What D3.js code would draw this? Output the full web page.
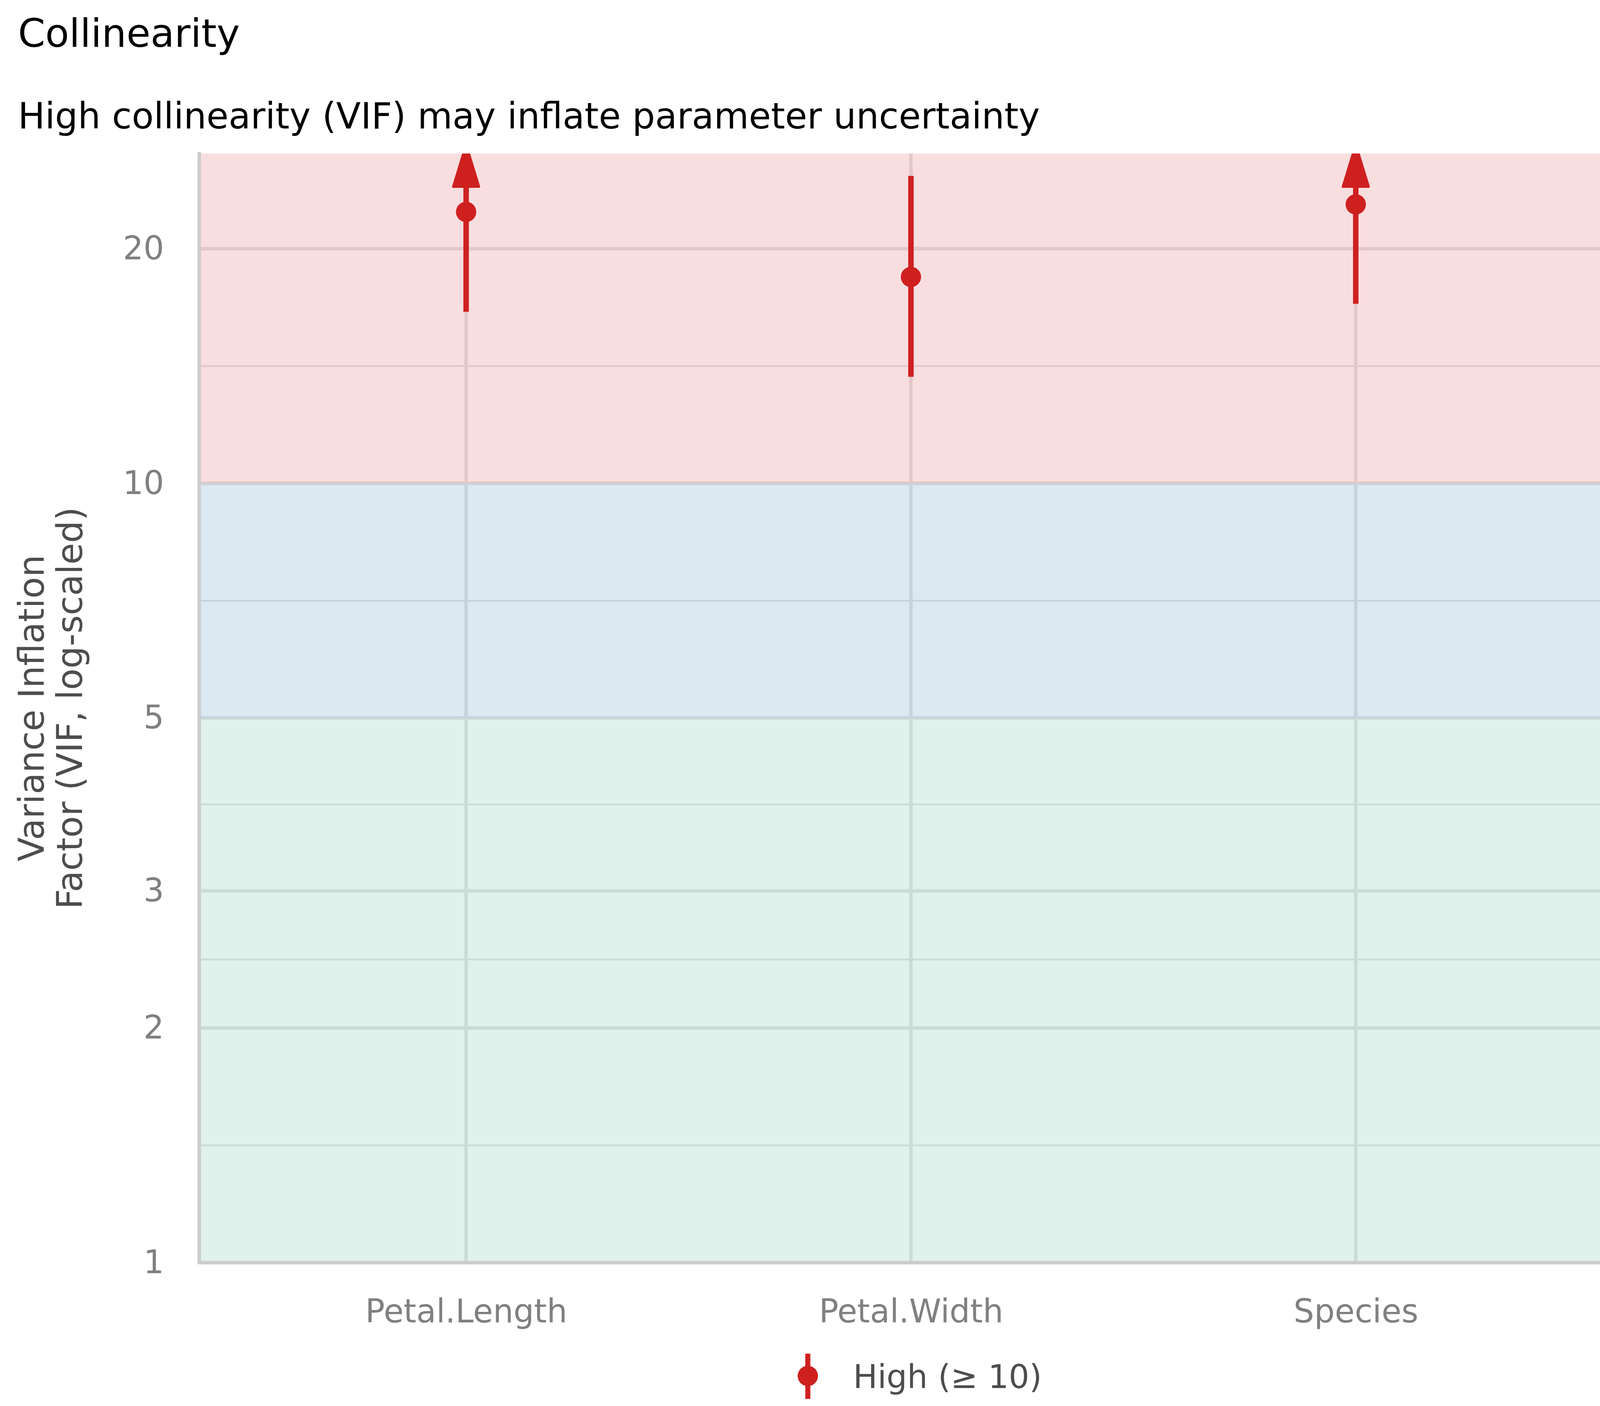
<!DOCTYPE html>
<html>
<head>
<meta charset="utf-8">
<script src="https://cdn.jsdelivr.net/npm/d3@7"></script>
<style>
  html, body { margin: 0; padding: 0; background: #fff; overflow: hidden; }
  svg { display: block; font-family: "DejaVu Sans", sans-serif; }
</style>
</head>
<body>
<div id="chart"></div>
<script>
// Data
const terms = ["Petal.Length", "Petal.Width", "Species"];
const vif = [22.3, 18.4, 22.8];
const ciLow = [16.6, 13.7, 17.0];
const ciHigh = [null, 24.8, null]; // null = upper bound runs off the top of the axis

const yTicks = [1, 2, 3, 5, 10, 20];
const yMinorTicks = [1.414, 2.449, 3.873, 7.071, 14.142];

// Zones: low (1-5), moderate (5-10), high (>= 10); drawn half transparent over the grid
const bandEdges = [1, 5, 10];
const bandColors = ["#c3e5d9", "#b9d1e5", "#f3bdc1"];

const legendLabel = "High (\u2265 10)";
const titleText = "Collinearity";
const subtitleText = "High collinearity (VIF) may inflate parameter uncertainty";
const yTitleLines = ["Variance Inflation", "Factor (VIF, log-scaled)"];

const W = 4200, H = 3600;
const panel = { left: 510, right: 4154, top: 393, bottom: 3233 };
const RED = "#cf2020";
const GRID = "#d3d3d3";

function renderChart(container) {
  const svg = d3.select(container).append("svg").attr("width", W).attr("height", H);

  const x = d3.scalePoint().domain(terms).range([panel.left, panel.right]).padding(0.6);
  const yMax = 26.5;
  const y = d3.scaleLog().domain([1, yMax]).range([panel.bottom, panel.top]);

  svg.append("defs").append("clipPath").attr("id", "panel-clip")
    .append("rect")
    .attr("x", panel.left).attr("y", panel.top)
    .attr("width", panel.right - panel.left).attr("height", panel.bottom - panel.top);

  // Gridlines (underneath the translucent zones)
  const grid = svg.append("g").attr("stroke", GRID);
  grid.selectAll(".minor").data(yMinorTicks).join("line")
    .attr("x1", panel.left).attr("x2", panel.right)
    .attr("y1", (d) => y(d)).attr("y2", (d) => y(d))
    .attr("stroke-width", 4.5);
  grid.selectAll(".major").data(yTicks.filter((d) => d > 1)).join("line")
    .attr("x1", panel.left).attr("x2", panel.right)
    .attr("y1", (d) => y(d)).attr("y2", (d) => y(d))
    .attr("stroke-width", 9);
  grid.selectAll(".vert").data(terms).join("line")
    .attr("x1", (d) => x(d)).attr("x2", (d) => x(d))
    .attr("y1", panel.top).attr("y2", panel.bottom)
    .attr("stroke-width", 9);

  // Background zones
  const bands = bandEdges.map((lo, i) => ({ lo, hi: bandEdges[i + 1] || yMax, color: bandColors[i] }));
  svg.append("g").selectAll("rect").data(bands).join("rect")
    .attr("x", panel.left).attr("width", panel.right - panel.left)
    .attr("y", (d) => y(d.hi)).attr("height", (d) => y(d.lo) - y(d.hi))
    .attr("fill", (d) => d.color).attr("fill-opacity", 0.5);

  // Axes (labels only, no ticks)
  const yAxis = svg.append("g")
    .attr("transform", `translate(${panel.left},0)`)
    .call(d3.axisLeft(y).tickValues(yTicks).tickFormat(d3.format("d")).tickSize(0).tickPadding(90));
  const xAxis = svg.append("g")
    .attr("transform", `translate(0,${panel.bottom})`)
    .call(d3.axisBottom(x).tickSize(0).tickPadding(94));
  [yAxis, xAxis].forEach((g) => {
    g.select(".domain").remove();
    g.selectAll("text")
      .attr("fill", "#808080")
      .style("font-size", "83px")
      .style("font-family", "'DejaVu Sans', sans-serif");
  });

  // Axis lines
  svg.append("line")
    .attr("x1", panel.left).attr("x2", panel.left)
    .attr("y1", panel.top - 4).attr("y2", panel.bottom + 4)
    .attr("stroke", "#cccccc").attr("stroke-width", 9);
  svg.append("line")
    .attr("x1", panel.left).attr("x2", panel.right)
    .attr("y1", panel.bottom).attr("y2", panel.bottom)
    .attr("stroke", "#cccccc").attr("stroke-width", 9);

  // Point ranges
  const rows = terms.map((t, i) => ({ term: t, vif: vif[i], lo: ciLow[i], hi: ciHigh[i] }));
  const marks = svg.append("g").attr("clip-path", "url(#panel-clip)");

  marks.selectAll(".ci").data(rows).join("line")
    .attr("x1", (d) => x(d.term)).attr("x2", (d) => x(d.term))
    .attr("y1", (d) => y(d.lo))
    .attr("y2", (d) => (d.hi == null ? panel.top : y(d.hi)))
    .attr("stroke", RED).attr("stroke-width", 14);

  // Arrow heads where the interval leaves the axis range
  const arrowLen = 108, arrowHalf = 33, tipOver = 23;
  marks.selectAll(".arrow").data(rows.filter((d) => d.hi == null)).join("path")
    .attr("d", (d) => {
      const cx = x(d.term);
      const tip = panel.top - tipOver;
      const base = tip + arrowLen;
      return `M${cx},${tip}L${cx + arrowHalf},${base}L${cx - arrowHalf},${base}Z`;
    })
    .attr("fill", RED).attr("stroke", RED)
    .attr("stroke-width", 6).attr("stroke-linejoin", "round");

  marks.selectAll(".pt").data(rows).join("circle")
    .attr("cx", (d) => x(d.term)).attr("cy", (d) => y(d.vif))
    .attr("r", 26).attr("fill", RED);

  // Titles
  svg.append("text").attr("x", 46).attr("y", 120)
    .style("font-size", "100px").attr("fill", "#000").text(titleText);
  svg.append("text").attr("x", 46).attr("y", 329)
    .style("font-size", "92px").attr("fill", "#000").text(subtitleText);

  const yMid = (panel.top + panel.bottom) / 2;
  const yTitleX = [112, 210];
  yTitleLines.forEach((line, i) => {
    svg.append("text")
      .attr("transform", `translate(${yTitleX[i]},${yMid}) rotate(-90)`)
      .attr("text-anchor", "middle")
      .style("font-size", "90px").attr("fill", "#4d4d4d")
      .text(line);
  });

  // Legend
  const legend = svg.append("g").attr("transform", "translate(2068,3523)");
  legend.append("line").attr("y1", -57).attr("y2", 59)
    .attr("stroke", RED).attr("stroke-width", 13);
  legend.append("circle").attr("r", 26).attr("fill", RED);
  legend.append("text").attr("x", 116).attr("y", 31)
    .style("font-size", "83px").attr("fill", "#4d4d4d").text(legendLabel);
}

renderChart(document.getElementById("chart"));
</script>
</body>
</html>
